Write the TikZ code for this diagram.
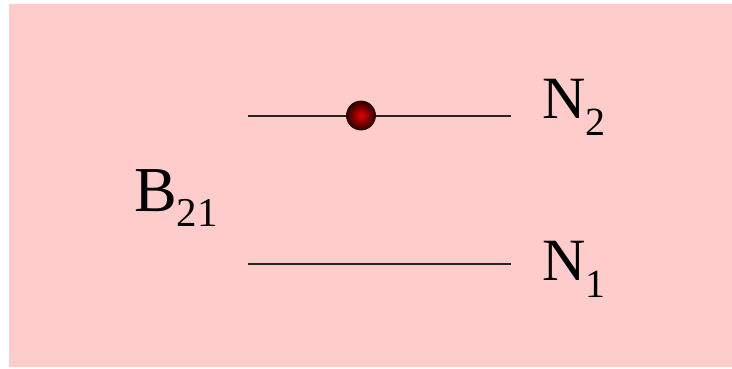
\documentclass[tikz,border=0pt]{standalone}
\usepackage{fontspec}
\setmainfont{Liberation Serif}
\definecolor{bgpink}{HTML}{FFCCCC}
\definecolor{atomred}{HTML}{E80000}
\definecolor{atomdark}{HTML}{2A0000}
\begin{document}
\begin{tikzpicture}[
        x=1pt, y=-1pt,
        level/.style={line width=1.9pt, draw=black!85},
        lvltext/.style={anchor=base west, inner sep=0pt, font=\fontsize{60}{60}\selectfont},
        atom/.style={circle, inner sep=0pt, minimum size=29pt, draw=atomdark, line width=0.8pt,
            inner color=atomred, outer color=atomdark}
    ]
        \useasboundingbox (0,0) rectangle (732,368);
        % Background
        \fill[bgpink] (9,4) rectangle (732,367);

        % Energy levels
        \coordinate (up-l) at (248,116);
        \coordinate (up-r) at (511,116);
        \coordinate (lo-l) at (248,264);
        \coordinate (lo-r) at (511,264);
        \draw[level] (up-l) -- (up-r);
        \draw[level] (lo-l) -- (lo-r);

        % Atom in upper level
        \node[atom] (atom) at (361,115.5) {};

        % Labels
        \node[lvltext] (n2) at (542,118) {N\raisebox{-17pt}{\fontsize{40}{40}\selectfont 2}};
        \node[lvltext] (n1) at (542,280) {N\raisebox{-17pt}{\fontsize{40}{40}\selectfont 1}};
        \node[lvltext, font=\fontsize{64}{64}\selectfont] (b21) at (134,211.5) {B\raisebox{-15pt}{\fontsize{41}{41}\selectfont 21}};
    \end{tikzpicture}
\end{document}
